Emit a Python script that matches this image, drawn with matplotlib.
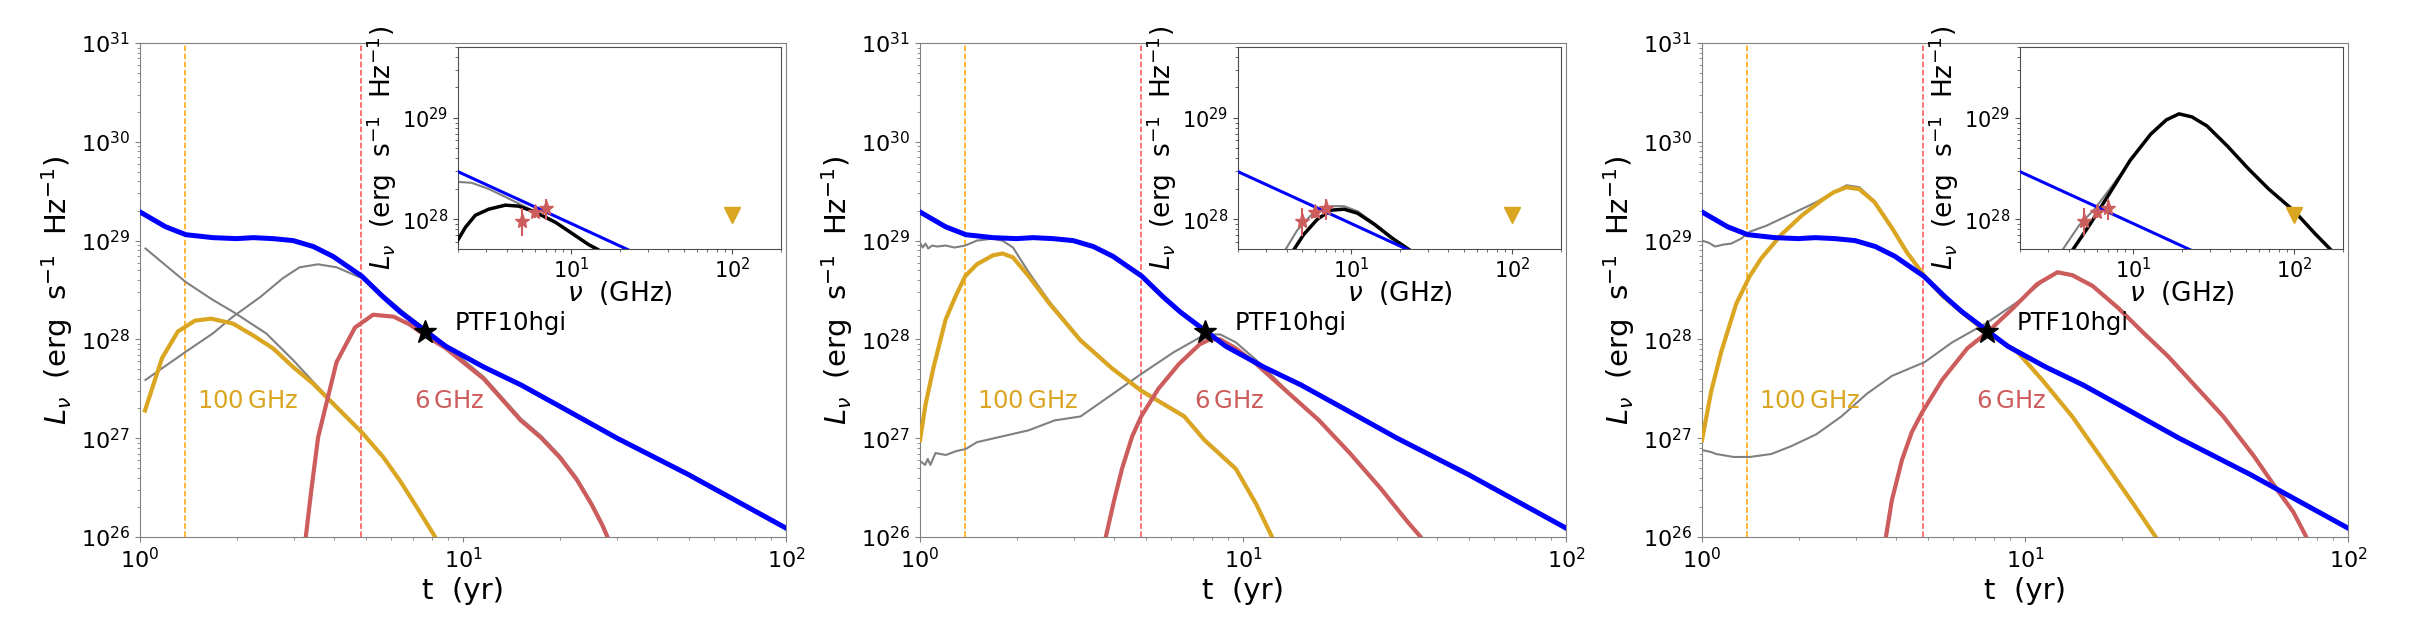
"""Three-panel light-curve figure with SED insets (PTF10hgi models)."""

import matplotlib
matplotlib.use("Agg")
import matplotlib.pyplot as plt
import numpy as np

BLUE = "#0000ff"
GOLD = "#daa520"
RED = "#cd5c5c"
GREY = "#808080"

# ---- light curves (t in yr, log10 L_nu) ----
blue_t = [1.0, 1.2, 1.386, 1.68, 1.99, 2.24, 2.58, 2.98, 3.44, 3.96, 4.86, 5.66,
          6.38, 7.62, 8.85, 11.6, 15.1, 20, 30, 50, 100]
blue_logL = [29.29, 29.14, 29.06, 29.03, 29.02, 29.03, 29.02, 29.00, 28.94, 28.84,
             28.64, 28.43, 28.28, 28.09, 27.93, 27.72, 27.54, 27.32, 27.0, 26.63, 26.09]

# panel 1
p1_gold_t = [1.036, 1.17, 1.31, 1.48, 1.66, 1.94, 2.24, 2.58, 2.98, 3.44, 3.96,
             4.86, 5.66, 6.38, 7.2, 8.2, 8.5]
p1_gold_logL = [27.28, 27.81, 28.08, 28.19, 28.21, 28.16, 28.04, 27.91, 27.72, 27.55,
                27.35, 27.06, 26.81, 26.57, 26.30, 26.0, 25.9]
p1_red_t = [3.2, 3.26, 3.39, 3.56, 4.06, 4.63, 5.27, 6.1, 6.85, 7.62, 8.85, 11.6,
            15.1, 17.5, 20, 22.5, 25, 27, 28, 29]
p1_red_logL = [25.8, 26.0, 26.47, 27.01, 27.77, 28.12, 28.25, 28.23, 28.15, 28.04,
               27.91, 27.60, 27.18, 27.0, 26.8, 26.58, 26.33, 26.12, 26.0, 25.88]
p1_grey_a_t = [1.04, 1.386, 1.68, 1.94, 2.46, 2.98, 3.44, 3.96, 4.86, 5.66, 6.38,
               7.2, 8.2, 8.5]
p1_grey_a_logL = [28.92, 28.58, 28.40, 28.28, 28.06, 27.79, 27.57, 27.36, 27.06,
                  26.81, 26.57, 26.30, 26.0, 25.9]
p1_grey_b_t = [1.04, 1.386, 1.68, 1.94, 2.36, 2.77, 3.12, 3.56, 4.06, 4.86, 5.66,
               6.7, 7.62, 8.85, 11.6, 15.1, 17.5, 20, 22.5, 25, 27, 28, 29]
p1_grey_b_logL = [27.59, 27.875, 28.06, 28.23, 28.43, 28.62, 28.73, 28.76, 28.73,
                  28.62, 28.45, 28.25, 28.11, 27.94, 27.62, 27.20, 27.02, 26.82,
                  26.6, 26.35, 26.14, 26.02, 25.9]

# panel 2
p2_gold_t = [1.0, 1.04, 1.10, 1.20, 1.29, 1.38, 1.50, 1.68, 1.80, 1.94, 2.17, 2.52,
             3.14, 3.92, 4.84, 6.58, 7.6, 9.5, 11.0, 12.3, 12.6]
p2_gold_logL = [26.98, 27.34, 27.71, 28.20, 28.44, 28.64, 28.76, 28.85, 28.87, 28.83,
                28.64, 28.36, 27.99, 27.71, 27.48, 27.22, 26.98, 26.69, 26.33, 26.0,
                25.9]
p2_red_t = [3.76, 3.99, 4.22, 4.54, 4.84, 5.47, 6.33, 7.34, 7.9, 8.5, 9.5, 11.0,
            13.8, 17.2, 21.4, 26.7, 32.2, 35.5, 37]
p2_red_logL = [26.0, 26.37, 26.69, 27.02, 27.22, 27.50, 27.75, 27.95, 28.0, 28.0,
               27.91, 27.75, 27.46, 27.18, 26.85, 26.49, 26.16, 26.0, 25.9]
p2_grey_a_t = [1.0, 1.02, 1.04, 1.06, 1.09, 1.13, 1.2, 1.28, 1.38, 1.5, 1.68, 1.8,
               1.94, 2.17, 2.52, 3.14, 3.92, 4.84, 6.58, 7.6, 9.5, 11.0, 12.3, 12.6]
p2_grey_a_logL = [28.98, 28.93, 28.97, 28.92, 28.95, 28.94, 28.95, 28.93, 28.95,
                  29.0, 29.02, 29.0, 28.93, 28.68, 28.38, 28.0, 27.72, 27.49, 27.23,
                  26.99, 26.70, 26.34, 26.0, 25.9]
p2_grey_b_t = [1.0, 1.037, 1.057, 1.077, 1.117, 1.203, 1.295, 1.384, 1.501, 1.806,
               2.17, 2.61, 3.14, 3.92, 4.84, 6.1, 7.63, 8.51, 9.5, 11.0, 13.8, 17.2,
               21.4, 26.7, 32.2, 35.5, 37]
p2_grey_b_logL = [26.77, 26.73, 26.79, 26.73, 26.85, 26.83, 26.87, 26.89, 26.96,
                  27.02, 27.08, 27.18, 27.22, 27.44, 27.65, 27.87, 28.05, 28.05,
                  27.97, 27.79, 27.47, 27.19, 26.86, 26.50, 26.17, 26.0, 25.9]

# panel 3
p3_gold_t = [1.0, 1.067, 1.146, 1.276, 1.405, 1.525, 1.76, 2.03, 2.35, 2.56, 2.80,
             3.07, 3.42, 3.87, 4.31, 4.89, 5.55, 6.63, 7.64, 9.49, 11.3, 14.0, 17.4,
             21.7, 25.4, 26.3]
p3_gold_logL = [26.98, 27.47, 27.87, 28.36, 28.64, 28.82, 29.06, 29.25, 29.41, 29.49,
                29.54, 29.52, 29.39, 29.13, 28.88, 28.64, 28.44, 28.23, 28.07, 27.87,
                27.59, 27.22, 26.78, 26.33, 26.0, 25.9]
p3_red_t = [3.71, 3.87, 4.16, 4.46, 4.8, 5.54, 6.63, 7.64, 9.14, 10.9, 12.6, 14.0,
            16.2, 19.4, 23.2, 27.7, 33.2, 41.1, 51.1, 60.0, 67.8, 74.3, 77]
p3_red_logL = [26.0, 26.37, 26.78, 27.06, 27.26, 27.59, 27.91, 28.07, 28.31, 28.56,
               28.68, 28.65, 28.54, 28.32, 28.07, 27.83, 27.55, 27.22, 26.82, 26.49,
               26.25, 26.0, 25.9]
p3_grey_a_t = [1.0, 1.047, 1.098, 1.166, 1.231, 1.322, 1.405, 1.581, 1.892, 2.26,
               2.56, 2.80, 3.07, 3.42, 3.87, 4.31, 4.89, 5.55, 6.63, 7.64, 9.49,
               11.3, 14.0, 17.4, 21.7, 25.4, 26.3]
p3_grey_a_logL = [29.0, 28.98, 28.94, 28.96, 28.97, 29.02, 29.09, 29.15, 29.27,
                  29.39, 29.49, 29.56, 29.54, 29.40, 29.14, 28.89, 28.65, 28.45,
                  28.24, 28.08, 27.88, 27.60, 27.23, 26.79, 26.34, 26.0, 25.9]
p3_grey_b_t = [1.0, 1.067, 1.106, 1.253, 1.405, 1.639, 1.892, 2.26, 2.70, 3.24, 3.87,
               4.89, 5.95, 7.64, 9.49, 11.3, 12.6, 14.0, 16.2, 19.4, 23.2, 27.7,
               33.2, 41.1, 51.1, 60.0, 67.8, 74.3, 77]
p3_grey_b_logL = [26.88, 26.86, 26.84, 26.81, 26.81, 26.84, 26.92, 27.04, 27.22,
                  27.45, 27.63, 27.77, 27.97, 28.17, 28.38, 28.58, 28.67, 28.66,
                  28.55, 28.33, 28.08, 27.84, 27.56, 27.23, 26.83, 26.50, 26.26,
                  26.01, 25.91]

# ---- SED insets (nu in GHz, log10 L_nu) ----
sed_blue_nu = [2, 10, 30]
sed_blue_logL = [28.47, 27.96, 27.61]

obs_nu = [5.0, 6.0, 7.0]
obs_L = [9.7e27, 1.17e28, 1.30e28]
obs_err_lo = [2.8e27, 1.4e27, 3.2e27]
obs_err_hi = [3.2e27, 1.4e27, 2.8e27]
lim_nu = [100]
lim_L = [1.1e28]

s1_grey_nu = [1.96, 2.43, 3.09, 3.94, 4.97, 6.31, 8.07, 10.1, 12.9, 14.3, 16]
s1_grey_logL = [28.37, 28.36, 28.30, 28.22, 28.14, 28.06, 27.97, 27.86, 27.75, 27.70, 27.6]
s1_black_nu = [1.9, 1.97, 2.22, 2.56, 3.10, 3.93, 4.75, 6.04, 8.04, 10.2, 12.9, 14.8, 16.5]
s1_black_logL = [27.7, 27.78, 27.92, 28.04, 28.10, 28.14, 28.13, 28.07, 27.97, 27.86,
                 27.75, 27.70, 27.6]

s2_grey_nu = [3.7, 3.93, 4.64, 5.9, 7.5, 9.08, 11.0, 14.0, 17.8, 22.6, 25]
s2_grey_logL = [27.6, 27.70, 27.89, 28.07, 28.13, 28.13, 28.08, 27.96, 27.83, 27.69, 27.63]
s2_black_nu = [4.2, 4.43, 5.1, 6.19, 7.5, 9.08, 11.0, 14.0, 17.8, 23.5, 26]
s2_black_logL = [27.6, 27.70, 27.85, 28.0, 28.09, 28.10, 28.06, 27.95, 27.82, 27.69, 27.63]

s3_grey_nu = [3.45, 3.6, 4.64, 5.78, 7.2, 9.3, 12.9, 16.1, 19.3, 23.2]
s3_grey_logL = [27.6, 27.68, 27.94, 28.1, 28.3, 28.54, 28.84, 28.98, 29.04, 29.01]
s3_black_nu = [4.0, 4.16, 5.37, 7.2, 9.6, 12.9, 16.1, 19.3, 23.2, 28.8, 38.6, 51.8,
               69.2, 100, 134, 173, 190]
s3_black_logL = [27.62, 27.68, 27.94, 28.26, 28.58, 28.84, 28.98, 29.04, 29.01, 28.92,
                 28.72, 28.50, 28.30, 28.08, 27.86, 27.68, 27.6]

ptf_t = 7.62
ptf_L = 1.18e28
t_100ghz = 1.38
t_6ghz = 4.85

panels = [
    dict(gold=(p1_gold_t, p1_gold_logL), red=(p1_red_t, p1_red_logL),
         greys=[(p1_grey_a_t, p1_grey_a_logL), (p1_grey_b_t, p1_grey_b_logL)],
         sed_grey=(s1_grey_nu, s1_grey_logL), sed_black=(s1_black_nu, s1_black_logL)),
    dict(gold=(p2_gold_t, p2_gold_logL), red=(p2_red_t, p2_red_logL),
         greys=[(p2_grey_a_t, p2_grey_a_logL), (p2_grey_b_t, p2_grey_b_logL)],
         sed_grey=(s2_grey_nu, s2_grey_logL), sed_black=(s2_black_nu, s2_black_logL)),
    dict(gold=(p3_gold_t, p3_gold_logL), red=(p3_red_t, p3_red_logL),
         greys=[(p3_grey_a_t, p3_grey_a_logL), (p3_grey_b_t, p3_grey_b_logL)],
         sed_grey=(s3_grey_nu, s3_grey_logL), sed_black=(s3_black_nu, s3_black_logL)),
]

W, H = 2429, 627
fig = plt.figure(figsize=(W / 100, H / 100), dpi=100)

YLABEL = r"$L_\nu$  (erg  s$^{-1}$  Hz$^{-1}$)"
lefts = [140, 920, 1702]


def pw(v):
    return 10 ** np.asarray(v)


for left, p in zip(lefts, panels):
    ax = fig.add_axes([left / W, (H - 537) / H, 646 / W, 494 / H])
    ax.set_xscale("log")
    ax.set_yscale("log")

    for gt, gl in p["greys"]:
        ax.plot(gt, pw(gl), color=GREY, lw=1.5, zorder=2)
    ax.plot(p["gold"][0], pw(p["gold"][1]), color=GOLD, lw=3, zorder=3)
    ax.plot(p["red"][0], pw(p["red"][1]), color=RED, lw=3, zorder=3)
    ax.plot(blue_t, pw(blue_logL), color=BLUE, lw=3.6, zorder=4)
    ax.axvline(t_100ghz, color="orange", ls="--", lw=1.1, zorder=1)
    ax.axvline(t_6ghz, color="red", ls="--", lw=1.1, alpha=0.7, zorder=1)
    ax.plot([ptf_t], [ptf_L], marker="*", ms=17, color="black", ls="none", zorder=6)
    ax.text(9.4, 1.45e28, "PTF10hgi", fontsize=17.5, va="center", ha="left")
    ax.text(1.5, 2e27, r"100$\,$GHz", color=GOLD, fontsize=17.5, va="baseline")
    ax.text(7.05, 2e27, r"6$\,$GHz", color=RED, fontsize=17.5, va="baseline")

    ax.set_xlim(1, 100)
    ax.set_ylim(1e26, 1e31)
    ax.set_xlabel("t  (yr)", fontsize=21)
    ax.set_ylabel(YLABEL, fontsize=21)
    ax.tick_params(labelsize=16, colors=GREY, labelcolor="black", which="both")
    for s in ax.spines.values():
        s.set_color(GREY)

    # SED inset
    ins = fig.add_axes([(left + 318) / W, (H - 249) / H, 323 / W, 202 / H])
    ins.set_xscale("log")
    ins.set_yscale("log")
    ins.plot(p["sed_grey"][0], pw(p["sed_grey"][1]), color=GREY, lw=1.5, zorder=2)
    ins.plot(p["sed_black"][0], pw(p["sed_black"][1]), color="black", lw=2.5, zorder=3)
    ins.plot(sed_blue_nu, pw(sed_blue_logL), color=BLUE, lw=2.2, zorder=4)
    ins.errorbar(obs_nu, obs_L, yerr=[obs_err_lo, obs_err_hi], fmt="*", ms=11,
                 color=RED, ecolor=RED, elinewidth=1.5, zorder=5)
    ins.plot(lim_nu, lim_L, marker="v", ms=12, color=GOLD, ls="none", zorder=5)
    ins.set_xlim(2, 200)
    ins.set_ylim(5.1e27, 5e29)
    ins.set_xlabel(r"$\nu$  (GHz)", fontsize=19, labelpad=-2)
    ins.set_ylabel(YLABEL, fontsize=19, labelpad=2)
    ins.tick_params(labelsize=15, colors="0.3", labelcolor="black", which="both")
    ins.tick_params(axis="x", pad=2)
    for s in ins.spines.values():
        s.set_color("0.3")

fig.savefig("out.png", dpi=100)
